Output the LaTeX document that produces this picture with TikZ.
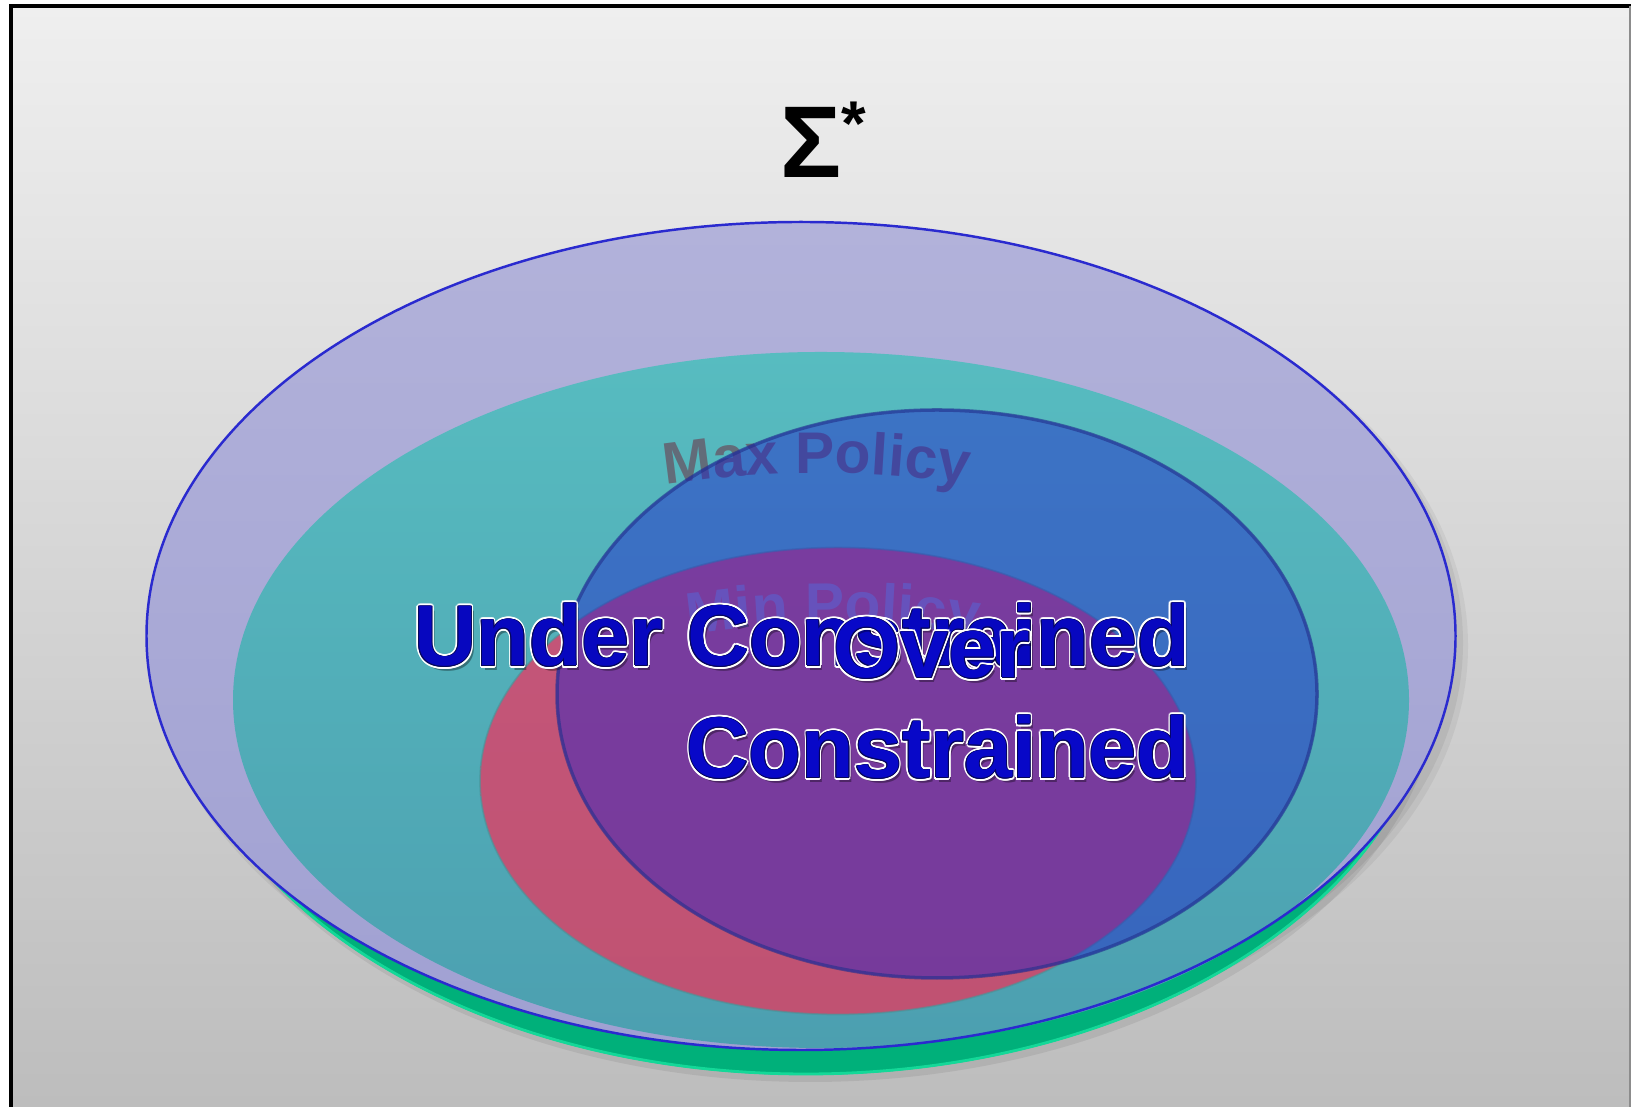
\documentclass[tikz,border=0pt]{standalone}
\usepackage{fontspec}
\setmainfont{Liberation Sans}
\usepackage{xcolor}
\definecolor{sigmaBgTop}{HTML}{EFEFEF}
\definecolor{sigmaBgBottom}{HTML}{BDBDBD}
\definecolor{sigmaLavTop}{HTML}{B2B2DA}
\definecolor{sigmaLavBottom}{HTML}{A0A0D2}
\definecolor{sigmaRim}{HTML}{2A2ACF}
\definecolor{sigmaTealTop}{HTML}{57BCC0}
\definecolor{sigmaTealBottom}{HTML}{4C9FB0}
\definecolor{sigmaGreen}{HTML}{00B07A}
\definecolor{sigmaGreenEdge}{HTML}{14D898}
\definecolor{sigmaPinkTop}{HTML}{C4567A}
\definecolor{sigmaPinkBottom}{HTML}{C05272}
\definecolor{sigmaBlue}{HTML}{1E1ECD}
\definecolor{sigmaBlueRim}{HTML}{22308C}
\definecolor{sigmaGray}{HTML}{646472}
\definecolor{sigmaMinText}{HTML}{5A62D0}
\definecolor{sigmaWord}{HTML}{0808C8}
\definecolor{sigmaWordRim}{HTML}{06065A}
\usepackage{tikz}
\usetikzlibrary{calc,decorations.text}

\newcommand\policyfont{\fontsize{16.7}{20}\selectfont\bfseries}
\newcommand\bigwordfont{\fontsize{24.5}{29}\selectfont\bfseries}

\begin{document}
\begin{tikzpicture}[x=0.01cm,y=0.01cm,
  bigword/.style={font=\bigwordfont,inner sep=0pt,anchor=base},
  wordglow/.style={bigword,text=white},
  wordrim/.style={bigword,text=sigmaWordRim},
  wordshade/.style={bigword,text=black,text opacity=0.35},
  wordface/.style={bigword,text=sigmaWord}]
  \useasboundingbox (0,0) rectangle (1631,1107);

  % frame
  \shade[top color=sigmaBgTop,bottom color=sigmaBgBottom] (11,0) rectangle (1631,1101);
  \draw[black,line width=0.9pt] (11,0) -- (11,1101) -- (1631,1101);
  \draw[black!45,line width=0.6pt] (1630,1101) -- (1630,0);

  % sets
  \fill[black,opacity=0.05] (810,461) ellipse [x radius=658,y radius=418];
  \fill[black,opacity=0.06] (808,464) ellipse [x radius=655,y radius=415];
  \fill[black,opacity=0.07] (810,442) ellipse [x radius=632,y radius=417];
  \fill[sigmaGreen] (806,447) ellipse [x radius=630,y radius=415];
  \draw[sigmaGreenEdge,line width=0.8pt] (806,447) ellipse [x radius=629,y radius=414];
  \shade[top color=sigmaLavTop,bottom color=sigmaLavBottom] (801,471) ellipse [x radius=654.5,y radius=414];
  \shade[top color=sigmaTealTop,bottom color=sigmaTealBottom] (821,407) ellipse [x radius=588,y radius=348];
  \shade[top color=sigmaPinkTop,bottom color=sigmaPinkBottom] (838,326) ellipse [x radius=358,y radius=233.5];
  \draw[sigmaTealTop!80!black,opacity=0.6,line width=0.5pt] (838,326) ellipse [x radius=358,y radius=233.5];

  \begin{scope}[opacity=0.9]
    \path[decorate,decoration={text along path,text align=center,
      text={|\policyfont\color{sigmaGray}|Max Policy}}]
      (643.35,618.81) arc [start angle=100,end angle=80,radius=1000];
  \end{scope}

  \fill[sigmaBlue,opacity=0.45] (937,413) ellipse [x radius=381,y radius=285];
  \draw[sigmaBlueRim,opacity=0.6,line width=1pt] (937,413) ellipse [x radius=380,y radius=284];

  \begin{scope}[opacity=0.6]
    \path[decorate,decoration={text along path,text align=center,
      text={|\policyfont\color{sigmaMinText}|Min Policy}}]
      (659.35,467.81) arc [start angle=100,end angle=80,radius=1000];
  \end{scope}

  \draw[sigmaRim,line width=0.7pt] (801,471) ellipse [x radius=654.5,y radius=414];

  % labels
  \node[wordshade] (under-shade) at (805,436) {Under Constrained};
  \foreach \a in {0,30,...,330}
    \node[wordglow] (under-glow-\a) at ($(802,441)+(\a:2.4)$) {Under Constrained};
  \foreach \a in {0,45,...,315}
    \node[wordrim] (under-rim-\a) at ($(802,441)+(\a:0.9)$) {Under Constrained};
  \node[wordface,text opacity=0.92] (under) at (802,441) {Under Constrained};

  \node[wordshade] (over-shade) at (935,424) {Over};
  \node[wordshade] (constrained-shade) at (941,324) {Constrained};
  \foreach \a in {0,30,...,330} {
    \node[wordglow] (over-glow-\a) at ($(932,429)+(\a:2.4)$) {Over};
    \node[wordglow] (constrained-glow-\a) at ($(938,329)+(\a:2.4)$) {Constrained};
  }
  \foreach \a in {0,45,...,315} {
    \node[wordrim] (over-rim-\a) at ($(932,429)+(\a:0.9)$) {Over};
    \node[wordrim] (constrained-rim-\a) at ($(938,329)+(\a:0.9)$) {Constrained};
  }
  \node[wordface] (over) at (932,429) {Over};
  \node[wordface] (constrained) at (938,329) {Constrained};

  \node[anchor=base west,inner sep=0pt,font=\fontsize{29}{34}\selectfont\bfseries] (sigma) at (780,929)
    {Σ\raisebox{9.3pt}{\fontsize{18}{18}\selectfont *}};
\end{tikzpicture}
\end{document}
